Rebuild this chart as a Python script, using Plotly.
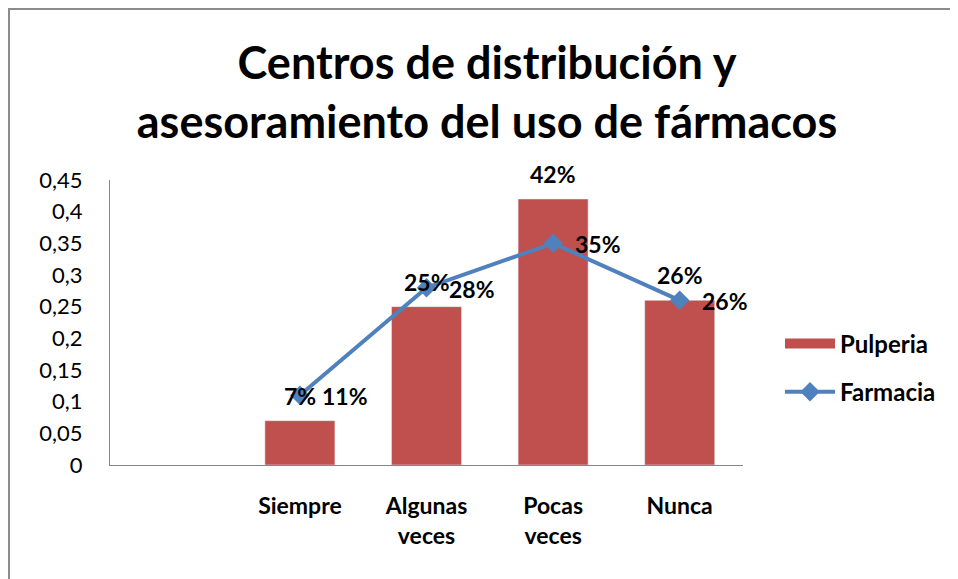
import plotly.graph_objects as go

categories = ["Siempre", "Algunas<br>veces", "Pocas<br>veces", "Nunca"]
pulperia = [0.07, 0.25, 0.42, 0.26]
farmacia = [0.11, 0.28, 0.35, 0.26]
pulperia_labels = ["7%", "25%", "42%", "26%"]
farmacia_labels = ["11%", "28%", "35%", "26%"]
y_ticks = [0, 0.05, 0.1, 0.15, 0.2, 0.25, 0.3, 0.35, 0.4, 0.45]

FONT = "Lato"
OFF = 8  # page body margin
W, H = 958 - OFF, 579 - OFF
L, R, T, B = 110 - OFF, 743 - OFF, 180 - OFF, 465 - OFF
pw, ph = R - L, B - T
RED, BLUE = "#C0504D", "#4F81BD"

fig = go.Figure()
fig.add_trace(go.Bar(
    x=categories, y=pulperia, name="Pulperia",
    marker=dict(color=RED), showlegend=False,
))
# legend entry drawn as a wide block, like the original legend key
fig.add_trace(go.Scatter(
    x=[None], y=[None], name="Pulperia", mode="lines",
    line=dict(color=RED, width=14), legendgroup="a",
))
fig.add_trace(go.Scatter(
    x=categories, y=farmacia, name="Farmacia", mode="lines+markers",
    line=dict(color=BLUE, width=4),
    marker=dict(symbol="diamond", size=15, color=BLUE),
    legendgroup="b", cliponaxis=False,
))

lab_font = dict(family=FONT, size=23, color="#000000", weight="bold")
for c, v, t in zip(categories, pulperia, pulperia_labels):
    fig.add_annotation(x=c, y=v, text=t, showarrow=False, yshift=25, font=lab_font)
for c, v, t in zip(categories, farmacia, farmacia_labels):
    fig.add_annotation(x=c, y=v, text=t, showarrow=False, xanchor="left",
                       xshift=20, yshift=-1, font=lab_font)

fig.add_shape(type="rect", xref="paper", yref="paper",
              x0=(1 - L) / pw, x1=(W + 20 - L) / pw,
              y0=(B - (H + 20)) / ph, y1=(B - 1) / ph,
              line=dict(color="#8c8c8c", width=2), layer="below")

fig.update_layout(
    width=W, height=H,
    margin=dict(l=L, r=W - R, t=T, b=H - B),
    paper_bgcolor="white", plot_bgcolor="white",
    separators=", ",
    bargap=0.447,
    title=dict(text="<b>Centros de distribución y<br>asesoramiento del uso de fármacos</b>",
               x=479 / W, xanchor="center", y=1 - 71 / H, yanchor="middle",
               font=dict(family=FONT, size=45, color="#000000")),
    font=dict(family=FONT, color="#000000"),
    showlegend=True,
    legend=dict(x=(772 - L) / pw, xanchor="left", y=(B - 360) / ph, yanchor="middle",
                font=dict(family=FONT, size=24, color="#000000", weight="bold"),
                traceorder="grouped", tracegroupgap=14, itemwidth=50,
                bgcolor="rgba(0,0,0,0)"),
    xaxis=dict(type="category", categoryorder="array", categoryarray=categories,
               range=[-1.5, 3.5], showline=True, linecolor="#868686", linewidth=1,
               ticks="", showgrid=False, ticklabelstandoff=20,
               tickfont=dict(family=FONT, size=23, color="#000000", weight="bold")),
    yaxis=dict(range=[0, 0.45], tickvals=y_ticks, showline=True,
               linecolor="#868686", linewidth=1, showgrid=False, zeroline=False,
               ticks="", ticklabelstandoff=22,
               tickfont=dict(family=FONT, size=22, color="#000000")),
)

fig.write_html("out.html")
